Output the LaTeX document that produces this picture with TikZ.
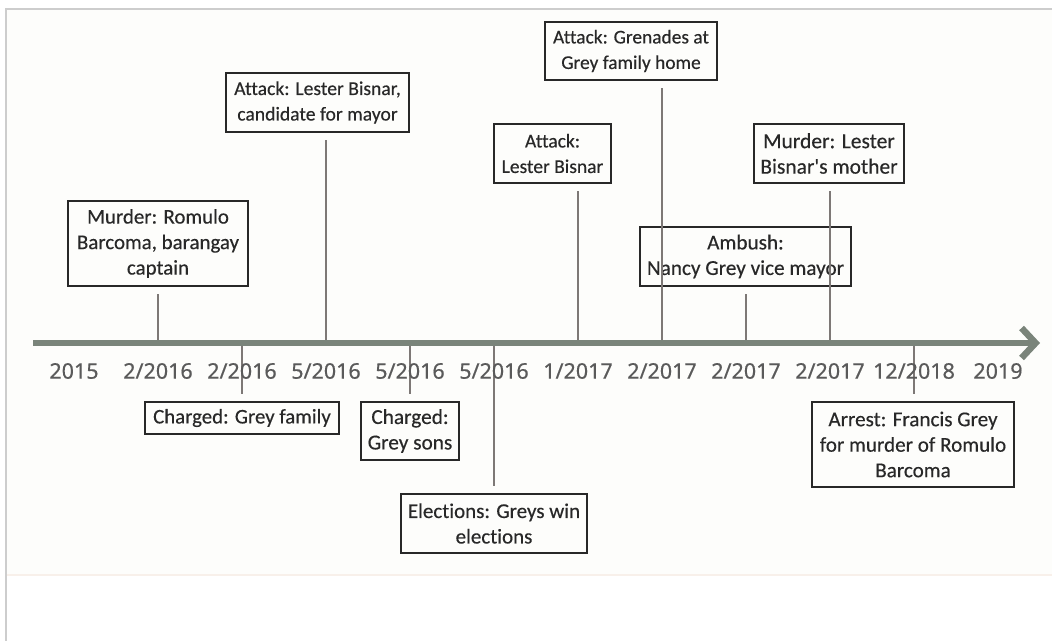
\documentclass[tikz,border=0pt]{standalone}
\usepackage{fontspec}
\setmainfont{Carlito}[Ligatures={NoCommon,TeXOff}, FakeBold=0.35]
\newfontfamily\datefont{Noto Sans}[FakeBold=0.5]
\usetikzlibrary{arrows.meta}
\definecolor{axisc}{RGB}{122,132,122}
\definecolor{tickc}{RGB}{125,120,118}
\definecolor{boxc}{RGB}{40,40,40}
\definecolor{textc}{RGB}{40,40,40}
\definecolor{datec}{RGB}{90,90,90}
\definecolor{framec}{RGB}{205,205,205}
\definecolor{bgc}{RGB}{253,253,251}
\definecolor{sepc}{RGB}{248,240,234}
\tikzset{
  evbox/.style={draw=boxc, line width=1.6pt, align=center, text=textc, inner sep=0pt,
    font=\fontsize{#1}{25.5}\selectfont},
  evbox/.default=20.8,
  datelab/.style={text=datec, inner sep=0pt, font=\datefont\fontsize{21.5}{24}\selectfont},
  tickline/.style={draw=tickc, line width=1.8pt, shorten >=7pt},
  axisline/.style={draw=axisc, line width=6.5pt, -{Straight Barb[length=14pt,width=30pt]}},
}
\begin{document}
\begin{tikzpicture}[x=1pt,y=-1pt]
\useasboundingbox (0,0) rectangle (1052,641);
% background and frame
\fill[bgc] (6,9) rectangle (1052,575);
\draw[sepc, line width=1.2pt] (6,575) -- (1052,575);
\draw[framec, line width=1.6pt] (1052,9) -- (6,9) -- (6,641);
% axis
\coordinate (axs) at (33,343);
\coordinate (axe) at (1040,343);
\foreach \i/\x in {1/74,2/158,3/242,4/326,5/410,6/494,7/578,8/662,9/746,10/830,11/914,12/998}
  \coordinate (t\i) at (\x,343);
% event boxes
\node[evbox=20.9, minimum width=180pt, minimum height=85pt] (b1) at (158,243.5) {Murder: Romulo\\Barcoma, barangay\\captain};
\node[evbox=20.8, minimum width=194pt, minimum height=32pt] (b2) at (242,418) {Charged: Grey family};
\node[evbox=19.6, minimum width=183pt, minimum height=59pt] (b3) at (317.5,102.5) {Attack: Lester Bisnar,\\candidate for mayor};
\node[evbox=21.3, minimum width=98pt, minimum height=58pt] (b4) at (410,431) {Charged:\\Grey sons};
\node[evbox=21.0, minimum width=186pt, minimum height=59pt] (b5) at (494,523.5) {Elections: Greys win\\elections};
\node[evbox=19.5, minimum width=117pt, minimum height=59pt] (b6) at (552.5,153.5) {Attack:\\Lester Bisnar};
\node[evbox=19.4, minimum width=172pt, minimum height=58pt] (b7) at (631,51) {Attack: Grenades at\\Grey family home};
\node[evbox=21.2, minimum width=211pt, minimum height=59pt] (b8) at (745.5,256.5) {Ambush:\\Nancy Grey vice mayor};
\node[evbox=21.5, minimum width=150pt, minimum height=59pt] (b9) at (829,153.5) {Murder: Lester\\Bisnar's mother};
\node[evbox=21.1, minimum width=202pt, minimum height=85pt] (b10) at (913,444.5) {Arrest: Francis Grey\\for murder of Romulo\\Barcoma};
% tick lines
\draw[tickline] (t2) -- (t2 |- b1.south);
\draw[tickline] (t3) -- (t3 |- b2.north);
\draw[tickline] (t4) -- (t4 |- b3.south);
\draw[tickline] (t5) -- (t5 |- b4.north);
\draw[tickline] (t6) -- (t6 |- b5.north);
\draw[tickline] (t7) -- (t7 |- b6.south);
\draw[tickline] (t8) -- (t8 |- b7.south);
\draw[tickline] (t9) -- (t9 |- b8.south);
\draw[tickline] (t10) -- (t10 |- b9.south);
\draw[tickline] (t11) -- (t11 |- b10.north);
\draw[axisline] (axs) -- (axe);
% date labels
\foreach \i/\x/\d in {1/74/2015,2/158/2\slash 2016,3/242/2\slash 2016,4/326/5\slash 2016,5/410/5\slash 2016,6/494/5\slash 2016,7/578/1\slash 2017,8/662/2\slash 2017,9/746/2\slash 2017,10/830/2\slash 2017,11/914/12\slash 2018,12/998/2019}
  \node[datelab] (d\i) at (\x,371) {\d};
\end{tikzpicture}
\end{document}
